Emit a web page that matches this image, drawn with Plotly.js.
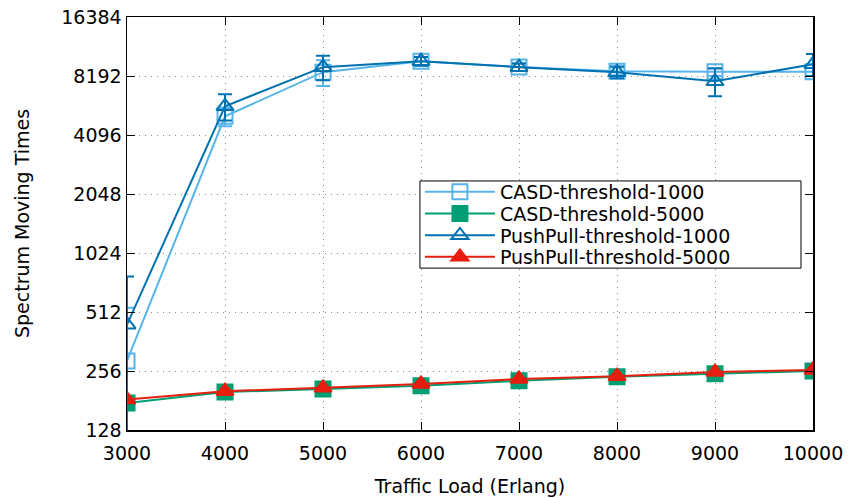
<!DOCTYPE html>
<html>
<head>
<meta charset="utf-8">
<script src="https://cdn.plot.ly/plotly-3.0.1.min.js"></script>
<style>html,body{margin:0;padding:0;background:#fff;}#chart{width:849px;height:498px;}</style>
</head>
<body>
<div id="chart"></div>
<script>
var trafficLoad = [3000, 4000, 5000, 6000, 7000, 8000, 9000, 10000];
var casd1000 = [288, 5100, 8570, 9750, 9100, 8660, 8600, 8600];
var casd1000Err = [250, 560, 1290, 500, 400, 400, 400, 400];
var casd5000 = [176, 200, 207, 215, 228, 239, 248, 256];
var push1000 = [441, 5740, 9090, 9750, 9090, 8570, 7700, 9400];
var push1000Err = [335, 880, 1290, 500, 400, 600, 1250, 1200];
var push5000 = [183, 202, 210, 220, 233, 241, 253, 259];
var yTicks = [128, 256, 512, 1024, 2048, 4096, 8192, 16384];
var xTicks = [3000, 4000, 5000, 6000, 7000, 8000, 9000, 10000];

function series(name, y, err, color, symbol, legendId) {
  var t = {
    x: trafficLoad, y: y, name: name, type: 'scatter', mode: 'lines+markers',
    legend: legendId,
    line: {color: color, width: 2},
    marker: {symbol: symbol, size: 15, color: color, line: {color: color, width: 2}}
  };
  if (err) t.error_y = {type: 'data', array: err, visible: true, color: color, thickness: 2, width: 7};
  return t;
}

var data = [
  series('CASD-threshold-1000', casd1000, casd1000Err, '#56B4E9', 'square-open', 'legend'),
  series('CASD-threshold-5000', casd5000, null, '#009E73', 'square', 'legend2'),
  series('PushPull-threshold-1000', push1000, push1000Err, '#0072B2', 'triangle-up-open', 'legend3'),
  series('PushPull-threshold-5000', push5000, null, '#E51E10', 'triangle-up', 'legend4')
];

var fam = 'DejaVu Sans, sans-serif';
var tickFont = {family: fam, size: 19, color: '#000'};
var titleFont = {family: fam, size: 19, color: '#000'};
function leg(y) {
  return {
    x: 0.427, y: y, xanchor: 'left', yanchor: 'middle',
    bgcolor: 'rgba(0,0,0,0)', borderwidth: 0,
    font: {family: fam, size: 19, color: '#000'}, itemwidth: 70
  };
}
var layout = {
  width: 849, height: 498,
  margin: {l: 127, r: 36, t: 17, b: 68},
  paper_bgcolor: '#fff', plot_bgcolor: '#fff',
  font: tickFont,
  showlegend: true,
  xaxis: {
    range: [3000, 10000], tickvals: xTicks, ticktext: xTicks.map(String),
    tickfont: tickFont, ticklabelstandoff: 6,
    ticks: 'inside', ticklen: 8, tickcolor: '#000', mirror: 'ticks',
    showline: true, linecolor: '#000', linewidth: 1.5,
    showgrid: true, gridcolor: '#888', griddash: '1px,5px', gridwidth: 1,
    zeroline: false,
    title: {text: 'Traffic Load (Erlang)', font: titleFont, standoff: 16}
  },
  yaxis: {
    type: 'log', range: [Math.log10(128), Math.log10(16384)],
    tickvals: yTicks, ticktext: yTicks.map(String),
    tickfont: tickFont,
    ticks: 'inside', ticklen: 8, tickcolor: '#000', mirror: 'ticks',
    showline: true, linecolor: '#000', linewidth: 1.5,
    showgrid: true, gridcolor: '#888', griddash: '1px,5px', gridwidth: 1,
    zeroline: false,
    title: {text: 'Spectrum Moving Times', font: titleFont, standoff: 26}
  },
  shapes: [{
    type: 'rect', xref: 'paper', yref: 'paper',
    x0: 0.427, x1: 0.9825, y0: 0.392, y1: 0.603,
    line: {color: '#000', width: 1}, fillcolor: '#fff', layer: 'above'
  }],
  legend: leg(0.5763),
  legend2: leg(0.5237),
  legend3: leg(0.4709),
  legend4: leg(0.4189)
};

Plotly.newPlot('chart', data, layout, {displayModeBar: false, staticPlot: true});
</script>
</body>
</html>
